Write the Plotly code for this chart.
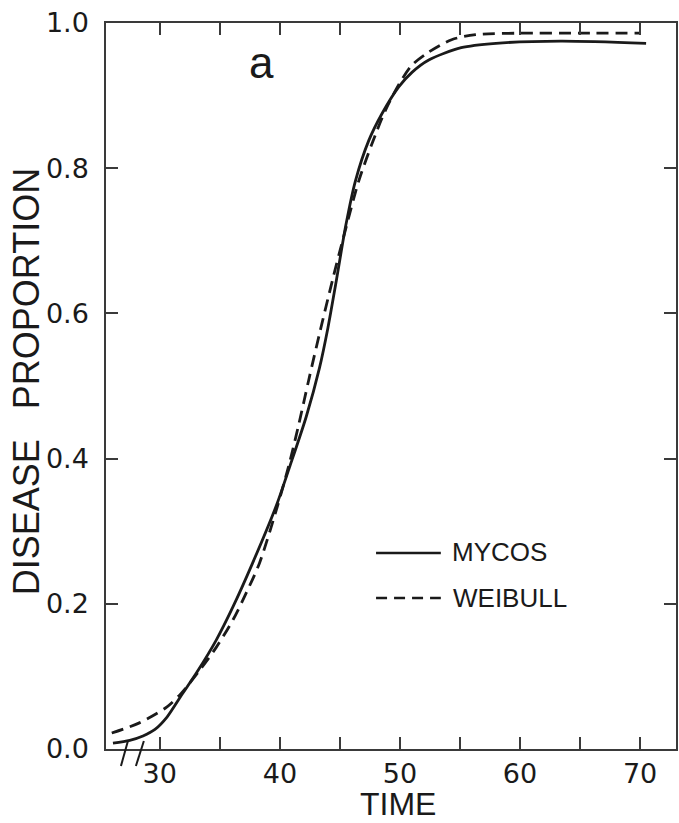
import plotly.graph_objects as go

# ---- data ----
mycos_time = [26.1, 27.5, 28.6, 29.6, 30.6, 31.8, 33.1, 34.7, 36.1, 37.7, 39.7, 40.8,
              42.2, 43.3, 44.0, 44.7, 45.5, 46.3, 47.4, 48.5, 49.9, 51.0, 52.4, 55.1,
              58.0, 63.4, 70.5]
mycos_prop = [0.008, 0.012, 0.018, 0.027, 0.044, 0.074, 0.106, 0.150, 0.196, 0.255, 0.335, 0.388,
              0.458, 0.525, 0.580, 0.645, 0.722, 0.783, 0.838, 0.875, 0.912, 0.932, 0.949, 0.966,
              0.972, 0.975, 0.972]

weibull_time = [26.0, 28.3, 30.6, 31.8, 33.3, 34.7, 36.1, 37.2, 38.3, 39.7, 40.8, 41.6,
                42.4, 43.3, 44.4, 45.3, 46.6, 48.0, 48.8, 49.9, 51.0, 52.4, 54.3, 56.3,
                60.0, 65.0, 70.0]
weibull_prop = [0.022, 0.036, 0.058, 0.077, 0.108, 0.140, 0.178, 0.215, 0.256, 0.329, 0.394, 0.449,
                0.508, 0.572, 0.647, 0.705, 0.784, 0.848, 0.880, 0.915, 0.942, 0.960, 0.977, 0.984,
                0.986, 0.986, 0.986]

x_ticks = [30, 40, 50, 60, 70]
y_ticks = [0.0, 0.2, 0.4, 0.6, 0.8, 1.0]
series_names = ["MYCOS", "WEIBULL"]

INK = "#1a1a1a"
AXC = "#3a3a3a"
DIGIT_FONT = "DejaVu Sans"
TEXT_FONT = "Liberation Sans"

fig = go.Figure()
fig.add_trace(go.Scatter(x=mycos_time, y=mycos_prop, mode="lines", name=series_names[0],
                         line=dict(color=INK, width=2.8, shape="spline", smoothing=0.8),
                         showlegend=False))
fig.add_trace(go.Scatter(x=weibull_time, y=weibull_prop, mode="lines", name=series_names[1],
                         line=dict(color=INK, width=2.8, dash="12px,7px", shape="spline", smoothing=0.8),
                         showlegend=False))

W, H = 679, 823
L, R, T, B = 106, 1, 23, 74

fig.update_layout(
    width=W, height=H,
    margin=dict(l=L, r=R, t=T, b=B, pad=0),
    paper_bgcolor="white", plot_bgcolor="white",
    showlegend=False,
)
fig.update_xaxes(
    range=[25.52, 72.99], tickvals=x_ticks, ticktext=[str(v) for v in x_ticks],
    ticks="inside", ticklen=12, tickwidth=1.5, tickcolor=AXC,
    minor=dict(tick0=25, dtick=5, ticks="inside", ticklen=12, tickwidth=1.5, tickcolor=AXC),
    showline=True, linecolor=AXC, linewidth=1.5, mirror="ticks",
    showgrid=False, zeroline=False,
    tickfont=dict(family=DIGIT_FONT, size=27, color=INK),
    ticklabelstandoff=0,
)
fig.update_yaxes(
    range=[0, 1.0], tickvals=y_ticks, ticktext=[f"{v:.1f}" for v in y_ticks],
    ticks="inside", ticklen=12, tickwidth=1.5, tickcolor=AXC,
    showline=True, linecolor=AXC, linewidth=1.5, mirror="ticks",
    showgrid=False, zeroline=False,
    tickfont=dict(family=DIGIT_FONT, size=27, color=INK),
    ticklabelstandoff=10,
)

pw = W - L - R
ph = H - T - B
def px_x(p):
    return (p - L) / pw
def px_y(p):
    return (H - B - p) / ph

annotations = [
    dict(text="TIME", x=px_x(399), y=px_y(824), xref="paper", yref="paper",
         showarrow=False, font=dict(family=TEXT_FONT, size=32, color=INK),
         xanchor="center", yanchor="bottom"),
    dict(text="DISEASE\u00a0\u00a0\u00a0PROPORTION", x=px_x(26), y=px_y(382), xref="paper", yref="paper",
         showarrow=False, textangle=-90, font=dict(family=TEXT_FONT, size=36, color=INK),
         xanchor="center", yanchor="middle"),
    dict(text="a", x=px_x(262), y=px_y(62), xref="paper", yref="paper",
         showarrow=False, font=dict(family=TEXT_FONT, size=44, color=INK),
         xanchor="center", yanchor="middle"),
    dict(text=series_names[0], x=px_x(451), y=px_y(552), xref="paper", yref="paper",
         showarrow=False, font=dict(family=TEXT_FONT, size=26, color=INK),
         xanchor="left", yanchor="middle"),
    dict(text=series_names[1], x=px_x(452), y=px_y(598), xref="paper", yref="paper",
         showarrow=False, font=dict(family=TEXT_FONT, size=26, color=INK),
         xanchor="left", yanchor="middle"),
]

shapes = [
    # legend samples
    dict(type="line", xref="paper", yref="paper", x0=px_x(377), x1=px_x(442),
         y0=px_y(553), y1=px_y(553), line=dict(color=INK, width=2.5)),
    dict(type="line", xref="paper", yref="paper", x0=px_x(377), x1=px_x(442),
         y0=px_y(598), y1=px_y(598), line=dict(color=INK, width=2.5, dash="11px,7px")),
    # axis break marks
    dict(type="line", xref="paper", yref="paper", x0=px_x(128), x1=px_x(121),
         y0=px_y(741), y1=px_y(766), line=dict(color=INK, width=2)),
    dict(type="line", xref="paper", yref="paper", x0=px_x(144), x1=px_x(136),
         y0=px_y(741), y1=px_y(766), line=dict(color=INK, width=2)),
]

fig.update_layout(annotations=annotations, shapes=shapes)
fig.write_html("out.html")
